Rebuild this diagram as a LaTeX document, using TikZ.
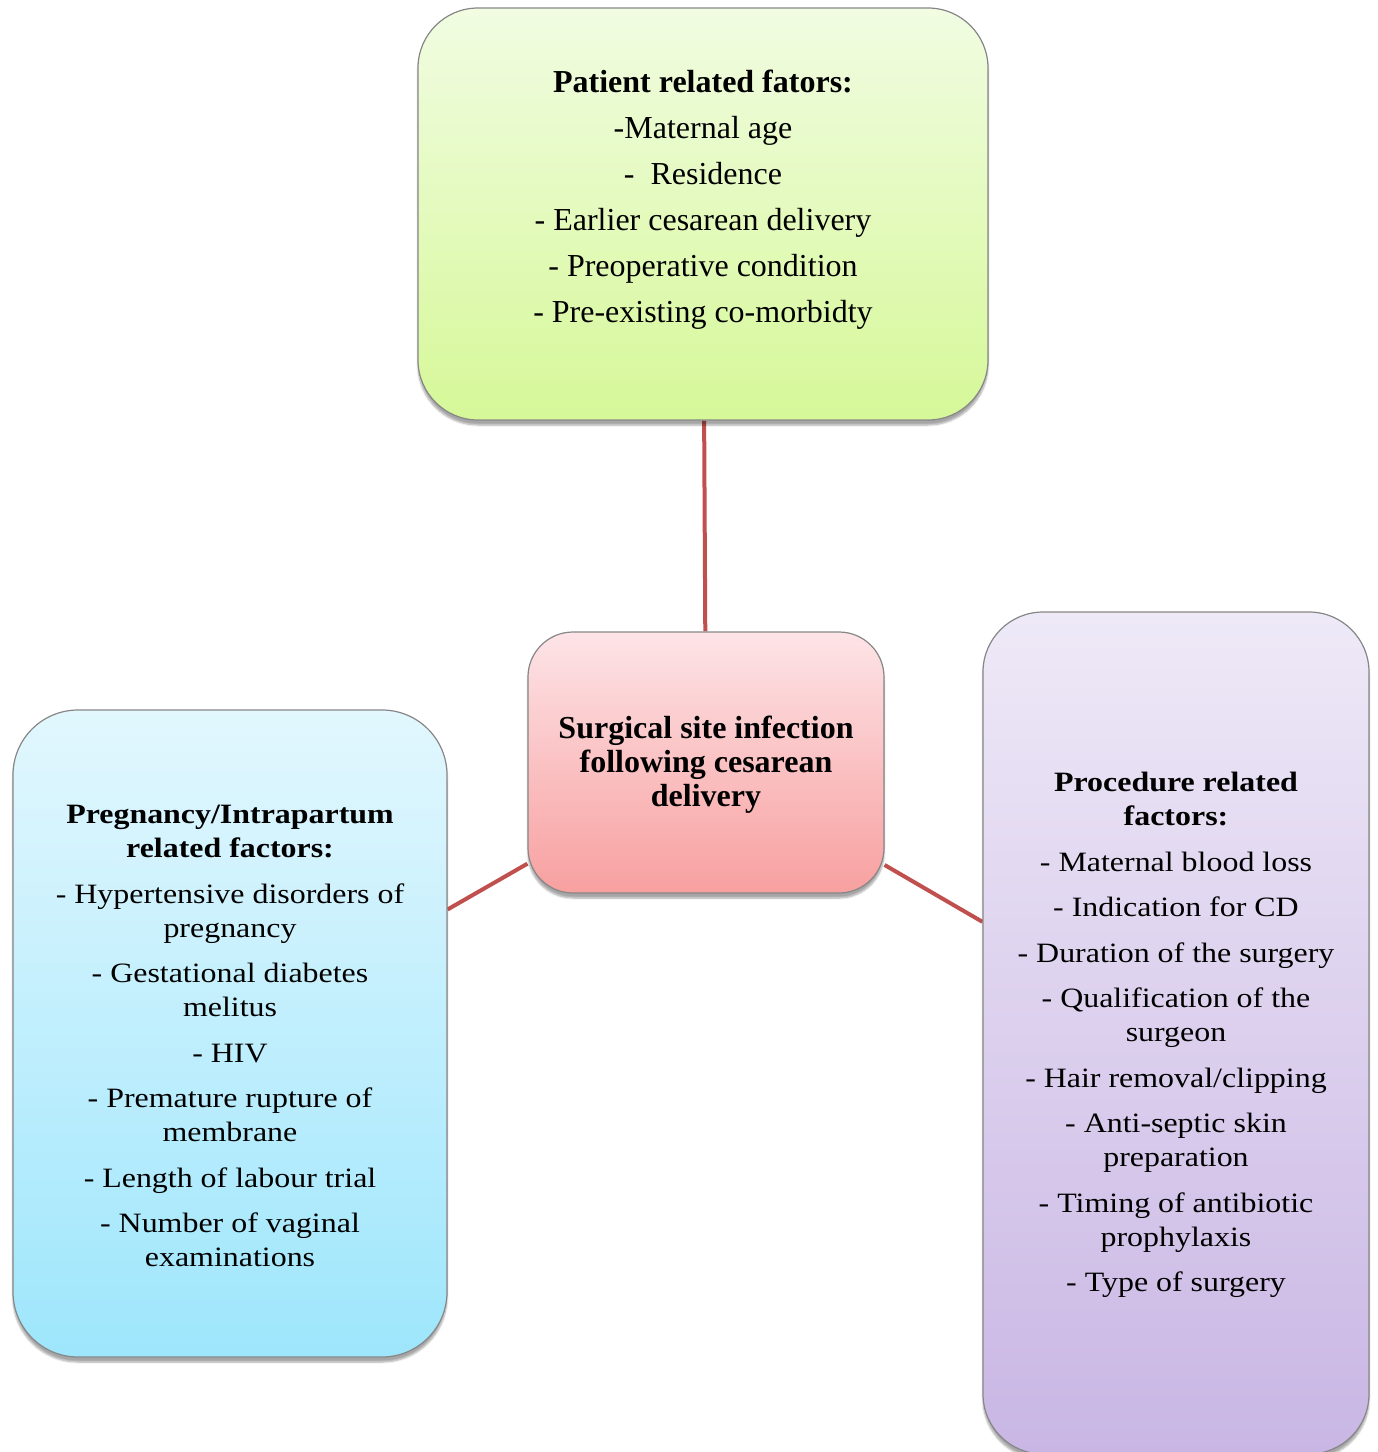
\documentclass[tikz,border=0pt]{standalone}
\usepackage{fontspec}
\setmainfont{Liberation Serif}
\newfontfamily\widefont[FakeStretch=1.14]{Liberation Serif}
\usetikzlibrary{shadows.blur,backgrounds}
\definecolor{linkred}{RGB}{192,80,77}
\definecolor{boxgray}{RGB}{135,135,135}
\definecolor{gtop}{RGB}{241,252,226}
\definecolor{gbot}{RGB}{214,248,152}
\definecolor{ptop}{RGB}{253,228,231}
\definecolor{pbot}{RGB}{248,160,160}
\definecolor{btop}{RGB}{226,247,254}
\definecolor{bbot}{RGB}{158,230,252}
\definecolor{vtop}{RGB}{238,233,247}
\definecolor{vbot}{RGB}{201,182,228}
\begin{document}
\begin{tikzpicture}[x=1pt,y=-1pt,
  box/.style={draw=boxgray, line width=1.2pt, rectangle, inner sep=0pt,
    blur shadow={shadow xshift=0pt, shadow yshift=-5pt, shadow blur steps=6, shadow opacity=35}},
  link/.style={draw=linkred, line width=4pt},
  txt/.style={align=center, inner sep=0pt, text=black}]
\useasboundingbox (0,0) rectangle (1377,1452);

% boxes
\node[box, rounded corners=60pt, minimum width=570pt, minimum height=412pt,
      top color=gtop, bottom color=gbot] (pat) at (703,214) {};
\node[box, rounded corners=45pt, minimum width=356pt, minimum height=261pt,
      top color=ptop, bottom color=pbot] (cen) at (706,762.5) {};
\node[box, rounded corners=65pt, minimum width=434pt, minimum height=647pt,
      top color=btop, bottom color=bbot] (prg) at (230,1033.5) {};
\node[box, rounded corners=60pt, minimum width=386pt, minimum height=842pt,
      top color=vtop, bottom color=vbot] (pro) at (1176,1033) {};

% connectors
\begin{scope}[on background layer]
\draw[link] (pat) -- (cen);
\draw[link] (prg) -- (cen);
\draw[link] (pro) -- (cen);
\end{scope}

% texts
\node[txt, font=\fontsize{32}{46}\selectfont] (pattxt) at ([yshift=14pt]pat.center)
 {\textbf{Patient related fators:}\\
  -Maternal age\\
  -\ \ Residence\\
  - Earlier cesarean delivery\\
  - Preoperative condition\\
  - Pre-existing co-morbidty};

\node[txt, font=\fontsize{32}{34}\selectfont\bfseries] (centxt) at ([yshift=-2pt]cen.center)
 {Surgical site infection\\following cesarean\\delivery};

\node[txt, font=\widefont\fontsize{28}{34}\selectfont] (prgtxt) at ([yshift=-2.5pt]prg.center)
 {\textbf{Pregnancy/Intrapartum}\\
  \textbf{related factors:}\\[11.5pt]
  - Hypertensive disorders of\\pregnancy\\[11.5pt]
  - Gestational diabetes\\melitus\\[11.5pt]
  - HIV\\[11.5pt]
  - Premature rupture of\\membrane\\[11.5pt]
  - Length of labour trial\\[11.5pt]
  - Number of vaginal\\examinations};

\node[txt, font=\widefont\fontsize{28}{34}\selectfont] (protxt) at ([yshift=-2pt]pro.center)
 {\textbf{Procedure related}\\
  \textbf{factors:}\\[11.5pt]
  - Maternal blood loss\\[11.5pt]
  - Indication for CD\\[11.5pt]
  - Duration of the surgery\\[11.5pt]
  - Qualification of the\\surgeon\\[11.5pt]
  - Hair removal/clipping\\[11.5pt]
  - Anti-septic skin\\preparation\\[11.5pt]
  - Timing of antibiotic\\prophylaxis\\[11.5pt]
  - Type of surgery};
\end{tikzpicture}
\end{document}
